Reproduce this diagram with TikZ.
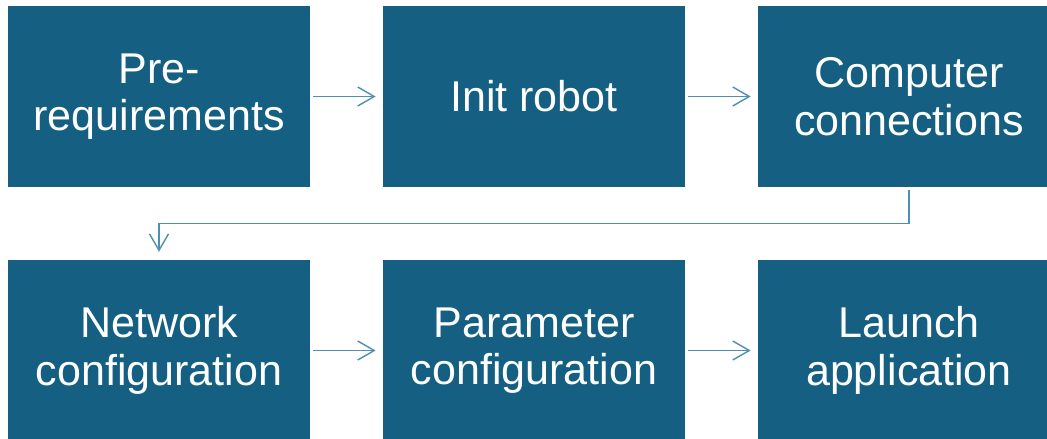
\documentclass[tikz,border=0pt]{standalone}
\usepackage{fontspec}
\setmainfont{Liberation Sans}
\usetikzlibrary{arrows.meta}
\definecolor{boxblue}{HTML}{156082}
\definecolor{flowblue}{HTML}{4F8FB0}
\begin{document}
\begin{tikzpicture}[x=0.02cm,y=-0.02cm,
    stepbox/.style={fill=boxblue,text=white,minimum width=6.04cm,minimum height=3.62cm,
      align=center,inner sep=0pt,font=\fontsize{24.5}{27}\selectfont},
    flow/.style={draw=flowblue,line width=0.6pt,-{Straight Barb[length=3.3mm,width=3.8mm,line width=0.8pt]}}]
  \clip (0,0) rectangle (1047,439);
  \fill[white] (0,0) rectangle (1047,439);

  % upper row
  \node[stepbox] (pre)  at (159,96.5) {Pre-\\requirements};
  \node[stepbox] (init) at (534,96.5) {Init robot};
  \node[stepbox] (comp) at (909,96.5) {Computer\\connections};

  % lower row
  \node[stepbox] (net)   at (159,350.5) {Network\\configuration};
  \node[stepbox] (param) at (534,350.5) {Parameter\\configuration};
  \node[stepbox] (app)   at (909,350.5) {Launch\\application};

  % connectors
  \draw[flow,shorten <=1.7pt,shorten >=4pt] (pre) -- (init);
  \draw[flow,shorten <=1.7pt,shorten >=4pt] (init) -- (comp);
  \draw[flow,shorten <=1.5pt,shorten >=4.5pt] (comp.south) -- ++(0,36) -| (net.north);
  \draw[flow,shorten <=1.7pt,shorten >=4pt] (net) -- (param);
  \draw[flow,shorten <=1.7pt,shorten >=4pt] (param) -- (app);
\end{tikzpicture}
\end{document}
